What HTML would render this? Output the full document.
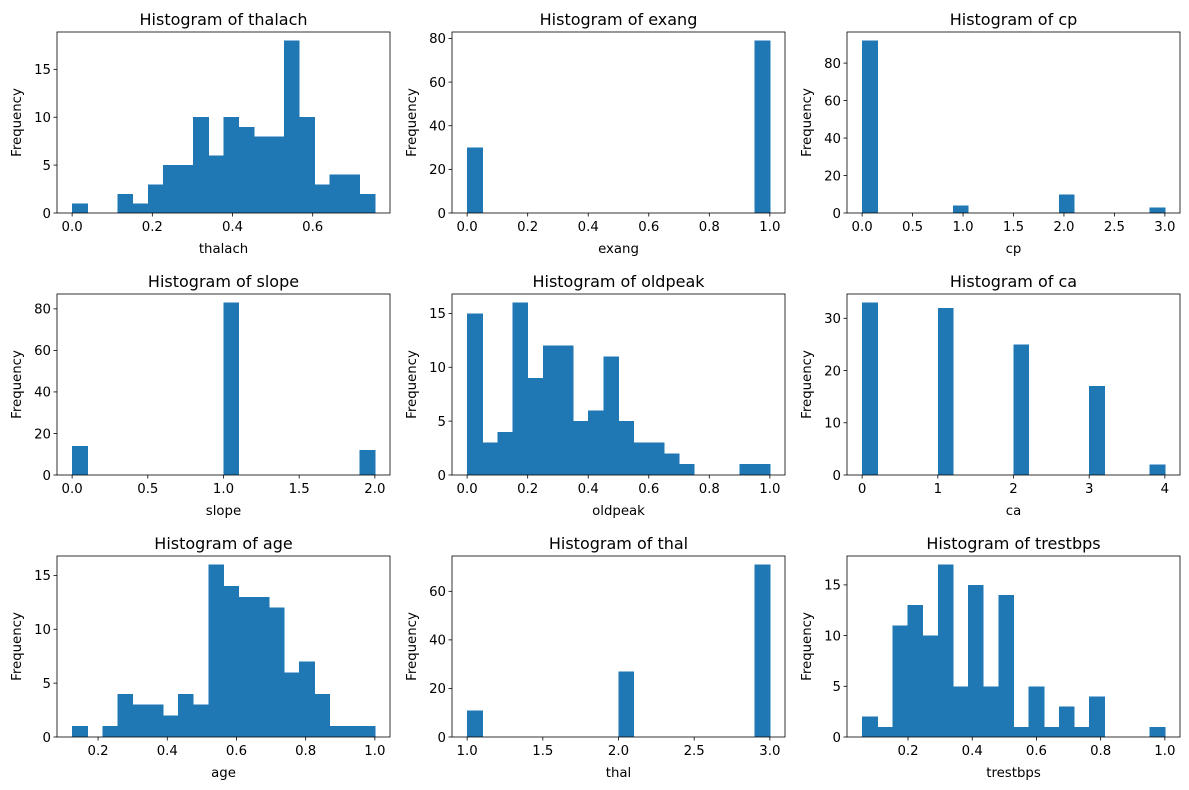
<!DOCTYPE html>
<html><head><meta charset="utf-8">
<style>
body{margin:0;background:#fff;}
svg{display:block;font-family:"DejaVu Sans","Liberation Sans",sans-serif;}
</style></head>
<body>
<svg id="fig" width="1189" height="790" xmlns="http://www.w3.org/2000/svg"></svg>
<script>
const names = ["thalach","exang","cp","slope","oldpeak","ca","age","thal","trestbps"];
const dataMin = [0, 0, 0, 0, 0, 0, 0.125, 1, 0.057];
const dataMax = [0.755, 1, 3, 2, 1, 4, 1, 3, 1];
const countsThalach = [1,0,0,2,1,3,5,5,10,6,10,9,8,8,18,10,3,4,4,2];
const countsExang = [30,0,0,0,0,0,0,0,0,0,0,0,0,0,0,0,0,0,0,79];
const countsCp = [92,0,0,0,0,0,4,0,0,0,0,0,0,10,0,0,0,0,0,3];
const countsSlope = [14,0,0,0,0,0,0,0,0,0,83,0,0,0,0,0,0,0,0,12];
const countsOldpeak = [15,3,4,16,9,12,12,5,6,11,5,3,3,2,1,0,0,0,1,1];
const countsCa = [33,0,0,0,0,32,0,0,0,0,25,0,0,0,0,17,0,0,0,2];
const countsAge = [1,0,1,4,3,3,2,4,3,16,14,13,13,12,6,7,4,1,1,1];
const countsThal = [11,0,0,0,0,0,0,0,0,0,27,0,0,0,0,0,0,0,0,71];
const countsTrestbps = [2,1,11,13,10,17,5,15,5,14,1,5,1,3,1,4,0,0,0,1];
const allCounts = [countsThalach,countsExang,countsCp,countsSlope,countsOldpeak,countsCa,countsAge,countsThal,countsTrestbps];
const xTicks = [
 ["0.0","0.2","0.4","0.6"],
 ["0.0","0.2","0.4","0.6","0.8","1.0"],
 ["0.0","0.5","1.0","1.5","2.0","2.5","3.0"],
 ["0.0","0.5","1.0","1.5","2.0"],
 ["0.0","0.2","0.4","0.6","0.8","1.0"],
 ["0","1","2","3","4"],
 ["0.2","0.4","0.6","0.8","1.0"],
 ["1.0","1.5","2.0","2.5","3.0"],
 ["0.2","0.4","0.6","0.8","1.0"]
];
const yTicks = [
 [0,5,10,15],[0,20,40,60,80],[0,20,40,60,80],
 [0,20,40,60,80],[0,5,10,15],[0,10,20,30],
 [0,5,10,15],[0,20,40,60],[0,5,10,15]
];

const NS="http://www.w3.org/2000/svg";
const svg=document.getElementById('fig');
const lefts=[57,452,847], tops=[32,294,556], W=333, H=181;
function mk(tag,attrs,parent){const e=document.createElementNS(NS,tag);for(const k in attrs)e.setAttribute(k,attrs[k]);parent.appendChild(e);return e;}

names.forEach((nm,i)=>{
  const L=lefts[i%3], T=tops[Math.floor(i/3)];
  const g=mk('g',{},svg);
  
  
  const mn=dataMin[i], mx=dataMax[i], r=mx-mn;
  const x0=mn-0.05*r, x1=mx+0.05*r;
  const counts=allCounts[i];
  const cmax=Math.max(...counts);
  const ymax=cmax*1.05;
  const sx=v=>L+(v-x0)/(x1-x0)*W;
  const sy=v=>T+H-v/ymax*H;
  const bw=r/counts.length;
  counts.forEach((c,j)=>{
    if(c<=0)return;
    const a=sx(mn+j*bw), b=sx(mn+(j+1)*bw);
    const rect=mk('rect',{x:a,y:sy(c),width:b-a+0.5,height:sy(0)-sy(c),fill:'#1f77b4','shape-rendering':'crispEdges'},g);
    
    
  });
  const frame=mk('rect',{x:L,y:T,width:W,height:H,fill:'none',stroke:'#000','stroke-width':0.8},g);
  
  
  xTicks[i].forEach(t=>{
    const x=sx(parseFloat(t));
    mk('line',{x1:x,x2:x,y1:T+H,y2:T+H+3.5,stroke:'#000','stroke-width':0.8},g);
    const tx=mk('text',{x:x,y:T+H+18,'text-anchor':'middle','font-size':'13.3px',fill:'#000'},g);
    tx.textContent=t;
    
    
  });
  yTicks[i].forEach(t=>{
    const y=sy(t);
    mk('line',{x1:L,x2:L-3.5,y1:y,y2:y,stroke:'#000','stroke-width':0.8},g);
    const ty=mk('text',{x:L-6,y:y+4.8,'text-anchor':'end','font-size':'13.3px',fill:'#000'},g);
    ty.textContent=t;
    
    
  });
  const ttl=mk('text',{x:L+W/2,y:T-7,'text-anchor':'middle','font-size':'16px',fill:'#000'},g);
  ttl.textContent='Histogram of '+nm;
  
  
  const xl=mk('text',{x:L+W/2,y:T+H+40,'text-anchor':'middle','font-size':'13.3px',fill:'#000'},g);
  xl.textContent=nm;
  
  
  const yl=mk('text',{x:0,y:0,'text-anchor':'middle','font-size':'13.3px',fill:'#000',transform:`translate(${L-36},${T+H/2}) rotate(-90)`},g);
  yl.textContent='Frequency';
  
  
});
</script>
</body></html>
